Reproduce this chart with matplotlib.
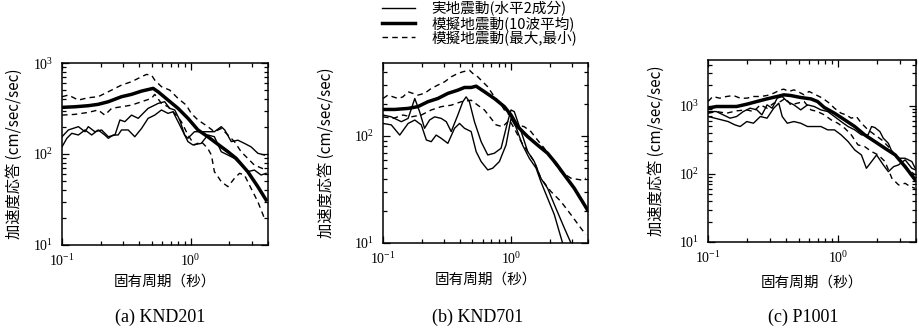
import matplotlib
matplotlib.use("Agg")
import matplotlib.pyplot as plt
from matplotlib.ticker import LogLocator, NullFormatter

plt.rcParams['font.family'] = ['Liberation Serif', 'Noto Sans CJK JP']
plt.rcParams['mathtext.default'] = 'regular'

JP = ['Noto Sans CJK JP', 'DejaVu Sans']

# ---- (a) KND201 ----
a_mean_t = [0.100, 0.126, 0.160, 0.191, 0.229, 0.290, 0.347, 0.415, 0.511, 0.558, 0.667,
            0.798, 0.953, 1.14, 1.36, 1.63, 1.95, 2.26, 2.78, 3.33, 3.86]
a_mean_v = [326, 331, 340, 352, 376, 427, 453, 492, 527, 484, 392,
            318, 247, 184, 155, 128, 106, 89.6, 64, 43.8, 31.3]
a_max_t = [0.100, 0.112, 0.134, 0.160, 0.191, 0.229, 0.290, 0.347, 0.415, 0.453, 0.496, 0.526, 0.593,
           0.687, 0.798, 0.925, 1.01, 1.14, 1.36, 1.53, 1.73, 1.95, 2.19, 2.47, 3.13, 3.86]
a_max_v = [427, 445, 392, 416, 427, 484, 573, 624, 708, 750, 738, 650, 550,
           505, 409, 345, 280, 237, 200, 176, 191, 162, 137, 106, 75.7, 66.7]
a_min_t = [0.100, 0.126, 0.160, 0.191, 0.215, 0.243, 0.290, 0.347, 0.415, 0.496, 0.526, 0.593, 0.667,
           0.752, 0.847, 0.953, 1.07, 1.21, 1.36, 1.45, 1.53, 1.63, 1.73, 1.95, 2.19, 2.40, 2.62,
           2.95, 3.33, 3.75]
a_min_v = [268, 273, 287, 305, 268, 318, 331, 345, 376, 409, 453, 360, 331,
           280, 227, 162, 126, 137, 115, 97.5, 64.0, 56.4, 49.7, 43.8, 54.0, 61.4, 58.8,
           42.0, 29.9, 19.6]
a_obs1_t = [0.100, 0.112, 0.134, 0.151, 0.160, 0.180, 0.203, 0.229, 0.258, 0.282, 0.308, 0.347,
            0.391, 0.427, 0.467, 0.526, 0.558, 0.628, 0.687, 0.752, 0.822, 0.898, 0.953, 1.07,
            1.29, 1.53, 1.73, 1.84, 2.07, 2.33, 2.62, 2.95, 3.33, 3.75]
a_obs1_v = [155, 184, 200, 176, 200, 176, 184, 155, 162, 237, 227, 268,
            247, 280, 318, 345, 360, 376, 318, 305, 237, 162, 149, 176,
            176, 176, 200, 184, 137, 142, 131, 120, 102, 97.5]
a_obs2_t = [0.100, 0.109, 0.119, 0.134, 0.151, 0.170, 0.191, 0.215, 0.229, 0.250, 0.273, 0.290,
            0.327, 0.368, 0.415, 0.467, 0.526, 0.593, 0.667, 0.729, 0.798, 0.873, 0.953, 1.04,
            1.21, 1.36, 1.53, 1.73, 1.95, 2.19, 2.47, 2.78, 3.13, 3.53, 3.86]
a_obs2_v = [120, 149, 169, 162, 184, 162, 184, 162, 149, 162, 162, 184,
            184, 155, 191, 247, 268, 305, 280, 292, 227, 176, 137, 126,
            131, 162, 155, 106, 97.5, 89.6, 75.7, 64.0, 66.7, 58.8, 61.4]

# ---- (b) KND701 ----
b_mean_t = [0.100, 0.123, 0.157, 0.187, 0.224, 0.268, 0.321, 0.384, 0.433, 0.488, 0.534, 0.620,
            0.741, 0.887, 1.00, 1.13, 1.35, 1.61, 1.93, 2.24, 2.61, 3.12, 3.95]
b_mean_v = [177, 177, 181, 188, 209, 224, 250, 268, 284, 284, 292, 259,
            224, 188, 157, 122, 98.6, 82.4, 69, 55.6, 43.3, 32.5, 20.5]
b_max_t = [0.100, 0.109, 0.120, 0.131, 0.143, 0.157, 0.171, 0.187, 0.211, 0.238, 0.268, 0.303,
           0.341, 0.384, 0.420, 0.473, 0.503, 0.550, 0.601, 0.658, 0.741, 0.811, 0.887, 1.00,
           1.13, 1.27, 1.43, 1.61, 1.82, 2.05, 2.45, 2.94, 3.51, 3.84]
b_max_v = [224, 241, 232, 224, 232, 259, 250, 241, 250, 278, 299, 321,
           357, 384, 398, 412, 384, 357, 321, 288, 232, 209, 175, 151,
           127, 122, 110, 91.8, 76.8, 61.9, 46.5, 40.3, 38.9, 40.3]
b_min_t = [0.100, 0.120, 0.143, 0.166, 0.199, 0.238, 0.285, 0.341, 0.408, 0.488, 0.550, 0.620,
           0.698, 0.764, 0.861, 0.971, 1.06, 1.20, 1.35, 1.52, 1.71, 2.05, 2.45, 2.94, 3.51, 3.84]
b_min_v = [151, 146, 157, 151, 157, 175, 188, 194, 209, 216, 194, 175,
           146, 127, 122, 141, 118, 88.5, 71.5, 57.7, 40.3, 30.3, 24.5, 18.4, 13.8, 12.0]
b_obs1_t = [0.100, 0.116, 0.139, 0.157, 0.177, 0.193, 0.211, 0.231, 0.253, 0.285, 0.312, 0.341,
            0.384, 0.420, 0.446, 0.473, 0.518, 0.584, 0.658, 0.741, 0.836, 0.942, 1.00, 1.06,
            1.20, 1.35, 1.52, 1.71, 1.93, 2.24, 2.61, 2.94]
b_obs1_v = [157, 151, 136, 146, 224, 169, 118, 141, 151, 146, 136, 110,
            157, 209, 232, 209, 136, 88.5, 66.5, 69.0, 76.8, 136, 175, 169,
            110, 71.5, 57.7, 40.3, 32.5, 21.2, 13.8, 10.0]
b_obs2_t = [0.100, 0.116, 0.135, 0.157, 0.177, 0.199, 0.218, 0.238, 0.260, 0.285, 0.321, 0.362,
            0.396, 0.433, 0.488, 0.534, 0.584, 0.658, 0.719, 0.811, 0.914, 1.00, 1.09, 1.23,
            1.39, 1.57, 1.71, 1.93, 2.18, 2.38, 2.53]
b_obs2_v = [131, 127, 102, 131, 141, 127, 91.8, 88.5, 102, 95.1, 85.4, 118,
            131, 118, 110, 71.5, 57.7, 48.2, 50.0, 57.7, 82.4, 146, 122, 82.4,
            61.9, 50.0, 37.5, 26.3, 18.4, 12.8, 10.0]

# ---- (c) P1001 ----
c_mean_t = [0.100, 0.116, 0.139, 0.166, 0.199, 0.238, 0.285, 0.341, 0.384, 0.433, 0.518, 0.620,
            0.698, 0.787, 0.942, 1.13, 1.35, 1.61, 1.93, 2.31, 2.77, 3.30, 3.95]
c_mean_v = [924, 978, 978, 978, 1058, 1158, 1267, 1372, 1451, 1419, 1326, 1267,
            1158, 945, 780, 623, 497, 375, 299, 238, 190, 128, 81.6]
c_max_t = [0.100, 0.109, 0.123, 0.139, 0.157, 0.177, 0.199, 0.224, 0.253, 0.285, 0.321, 0.362,
           0.384, 0.420, 0.459, 0.503, 0.550, 0.601, 0.678, 0.764, 0.861, 0.942, 1.06, 1.16,
           1.27, 1.39, 1.52, 1.71, 1.93, 2.18, 2.45, 2.77, 3.12, 3.51, 3.95]
c_max_v = [1158, 1372, 1296, 1372, 1419, 1296, 1296, 1372, 1372, 1419, 1536, 1718,
           1758, 1625, 1718, 1588, 1451, 1625, 1451, 1296, 1094, 924, 780, 737,
           659, 697, 556, 444, 375, 316, 252, 190, 152, 115, 96.6]
c_min_t = [0.100, 0.116, 0.139, 0.166, 0.199, 0.224, 0.253, 0.285, 0.321, 0.362, 0.396, 0.433,
           0.488, 0.550, 0.620, 0.698, 0.787, 0.887, 1.00, 1.13, 1.27, 1.43, 1.61, 1.82,
           2.05, 2.31, 2.61, 2.94, 3.30, 3.61, 3.95]
c_min_v = [780, 825, 780, 845, 873, 825, 1034, 924, 1094, 1158, 1296, 1034,
           1094, 1158, 873, 825, 737, 623, 556, 470, 375, 267, 252, 213,
           190, 152, 86.3, 68.9, 72.9, 65.2, 61.5]
c_obs1_t = [0.100, 0.116, 0.131, 0.148, 0.166, 0.187, 0.211, 0.238, 0.260, 0.285, 0.312, 0.341,
            0.373, 0.408, 0.459, 0.518, 0.584, 0.658, 0.741, 0.836, 0.942, 1.06, 1.20, 1.35,
            1.52, 1.71, 1.82, 1.93, 2.11, 2.24, 2.45, 2.61, 2.94, 3.30, 3.72, 3.95]
c_obs1_v = [825, 825, 737, 659, 697, 825, 924, 873, 737, 1034, 924, 1296,
            1372, 1158, 1034, 873, 1034, 978, 873, 825, 697, 588, 497, 444,
            375, 375, 497, 480, 419, 335, 282, 213, 170, 170, 152, 121]
c_obs2_t = [0.100, 0.113, 0.127, 0.143, 0.161, 0.177, 0.199, 0.224, 0.253, 0.285, 0.321, 0.351,
            0.373, 0.408, 0.459, 0.518, 0.584, 0.658, 0.741, 0.836, 0.942, 1.06, 1.20, 1.35,
            1.52, 1.66, 1.82, 1.99, 2.24, 2.45, 2.69, 2.94, 3.30, 3.72, 3.95]
c_obs2_v = [697, 659, 623, 588, 526, 497, 588, 556, 697, 659, 924, 1094,
            697, 556, 588, 556, 497, 497, 497, 444, 444, 375, 299, 225,
            190, 121, 152, 190, 136, 108, 128, 136, 161, 121, 115]

legend_labels = ['実地震動(水平2成分)', '模擬地震動(10波平均)', '模擬地震動(最大,最小)']
captions = ['(a) KND201', '(b) KND701', '(c) P1001']

panels = [
    dict(rect=[0.0675, 0.262, 0.2242, 0.548], ylim=(10, 1000), ylab_x=-0.19, xlab_y=-0.165,
         obs=[(a_obs1_t, a_obs1_v), (a_obs2_t, a_obs2_v)], mean=(a_mean_t, a_mean_v),
         env=[(a_max_t, a_max_v), (a_min_t, a_min_v)], cap_x=0.174),
    dict(rect=[0.4168, 0.268, 0.2231, 0.542], ylim=(10, 480), ylab_x=-0.234, xlab_y=-0.164,
         obs=[(b_obs1_t, b_obs1_v), (b_obs2_t, b_obs2_v)], mean=(b_mean_t, b_mean_v),
         env=[(b_max_t, b_max_v), (b_min_t, b_min_v)], cap_x=0.520),
    dict(rect=[0.7704, 0.271, 0.2263, 0.548], ylim=(10, 4700), ylab_x=-0.207, xlab_y=-0.187,
         obs=[(c_obs1_t, c_obs1_v), (c_obs2_t, c_obs2_v)], mean=(c_mean_t, c_mean_v),
         env=[(c_max_t, c_max_v), (c_min_t, c_min_v)], cap_x=0.874),
]

fig = plt.figure(figsize=(9.19, 3.32), dpi=100)
handles = None
for i, p in enumerate(panels):
    ax = fig.add_axes(p['rect'])
    for t, v in p['obs']:
        h_obs, = ax.plot(t, v, color='black', lw=1.0)
    for t, v in p['env']:
        h_env, = ax.plot(t, v, color='black', lw=1.0, ls=(0, (4, 3)))
    h_mean, = ax.plot(p['mean'][0], p['mean'][1], color='black', lw=2.5)
    if handles is None:
        handles = [h_obs, h_mean, h_env]
    ax.set_xscale('log')
    ax.set_yscale('log')
    ax.set_xlim(0.1, 4)
    ax.set_ylim(*p['ylim'])
    ax.yaxis.set_major_locator(LogLocator(base=10, numticks=10))
    ax.xaxis.set_minor_formatter(NullFormatter())
    ax.yaxis.set_minor_formatter(NullFormatter())
    ax.tick_params(which='both', direction='in', top=True, right=True, labelsize=10,
                   width=0.9)
    ax.tick_params(axis='x', pad=6)
    ax.tick_params(axis='y', pad=6)
    ax.tick_params(which='major', length=5)
    ax.tick_params(which='minor', length=3)
    for s in ax.spines.values():
        s.set_linewidth(1.1)
    ax.set_ylabel('加速度応答 (cm/sec/sec)', family=JP, fontsize=11)
    ax.yaxis.set_label_coords(p['ylab_x'], 0.5)
    ax.set_xlabel('固有周期（秒）', family=JP, fontsize=10.5)
    ax.xaxis.set_label_coords(0.5, p['xlab_y'])
    fig.text(p['cap_x'], 0.045, captions[i], ha='center', va='center', fontsize=13,
             family='Liberation Serif')

fig.legend(handles, legend_labels, loc='upper left', bbox_to_anchor=(0.414, 1.0),
           frameon=False, prop={'family': JP, 'size': 10.5}, handlelength=2.3,
           handletextpad=1.1, labelspacing=-0.05, borderpad=0.1, borderaxespad=0)

fig.savefig('out.png', dpi=100)
